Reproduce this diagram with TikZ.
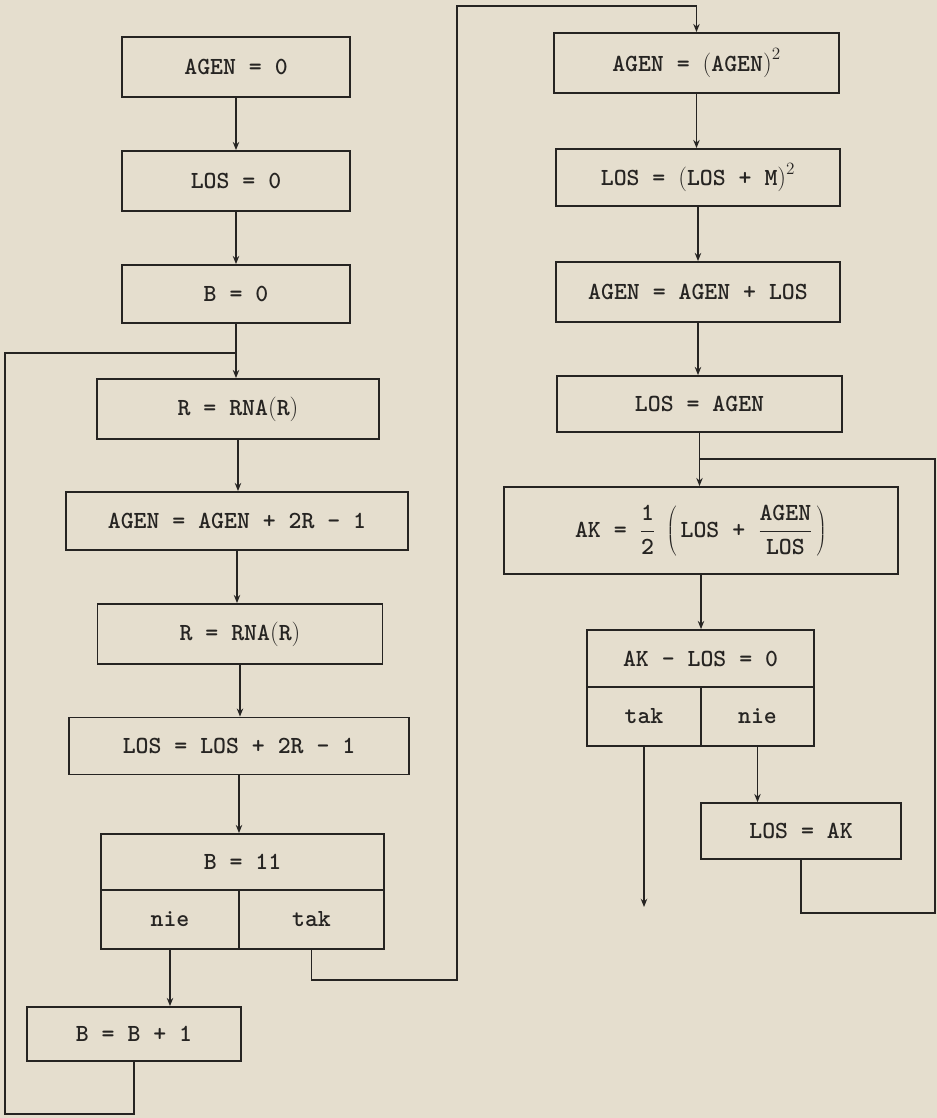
\RequirePackage{fix-cm}
\documentclass[tikz,border=0pt]{standalone}
\usepackage{fontspec}
\usetikzlibrary{arrows.meta}
\definecolor{paper}{RGB}{229,222,206}
\definecolor{ink}{RGB}{38,36,34}
\begin{document}
\begin{tikzpicture}[x=0.3mm, y=-0.3mm, >={Stealth[length=7pt,width=5.5pt]},
  box/.style={draw=ink, line width=1.5pt, inner sep=0pt, text=ink,
    font=\fontsize{21}{25}\selectfont\ttfamily\bfseries},
  ln/.style={draw=ink, line width=1.5pt}]
  \fill[paper] (0,0) rectangle (937,1118);
  \useasboundingbox (0,0) rectangle (937,1118);

  % left column
  \node[box, minimum width=68.4mm, minimum height=18mm] (a0) at (236,67) {AGEN = 0};
  \node[box, minimum width=68.4mm, minimum height=18mm] (l0) at (236,181) {LOS = 0};
  \node[box, minimum width=68.4mm, minimum height=17.4mm] (b0) at (236,294) {B = 0};
  \node[box, minimum width=84.6mm, minimum height=18mm] (rna1) at (238,409) {R = RNA$\Bigl($R$\Bigr)$};
  \node[box, minimum width=102.6mm, minimum height=17.4mm] (agen1) at (237,521) {AGEN = AGEN + 2R - 1};
  \node[box, minimum width=85.5mm, minimum height=18mm] (rna2) at (240,634) {R = RNA$\Bigl($R$\Bigr)$};
  \node[box, minimum width=102mm, minimum height=17.1mm] (los1) at (239,746) {LOS = LOS + 2R - 1};
  \node[box, minimum width=84.9mm, minimum height=16.8mm] (q1) at (242.5,862) {B = 11};
  \node[box, minimum width=41.4mm, minimum height=17.7mm] (q1n) at (170,919.5) {nie};
  \node[box, minimum width=43.5mm, minimum height=17.7mm] (q1t) at (311.5,919.5) {tak};
  \node[box, minimum width=64.2mm, minimum height=16.2mm] (binc) at (134,1034) {B = B + 1};

  % right column
  \node[box, minimum width=85.5mm, minimum height=18mm] (sq1) at (696.5,63) {AGEN = $\Bigl($AGEN$\Bigr)^2$};
  \node[box, minimum width=85.2mm, minimum height=17.1mm] (sq2) at (698,177.5) {LOS = $\Bigl($LOS + M$\Bigr)^2$};
  \node[box, minimum width=85.2mm, minimum height=18mm] (sum) at (698,292) {AGEN = AGEN + LOS};
  \node[box, minimum width=85.5mm, minimum height=16.8mm] (set) at (699.5,404) {LOS = AGEN};
  \node[box, minimum width=118.2mm, minimum height=26.1mm] (ak) at (701,530.5)
    {AK = $\displaystyle\frac{\mbox{1}}{\mbox{2}}\;\left(\,\mbox{LOS + }\frac{\mbox{AGEN}}{\mbox{LOS}}\,\right)$};
  \node[box, minimum width=68.1mm, minimum height=17.1mm] (q2) at (700.5,658.5) {AK - LOS = 0};
  \node[box, minimum width=34.2mm, minimum height=17.7mm] (q2t) at (644,716.5) {tak};
  \node[box, minimum width=33.9mm, minimum height=17.7mm] (q2n) at (757.5,716.5) {nie};
  \node[box, minimum width=60mm, minimum height=16.8mm] (losak) at (801,831) {LOS = AK};

  % loop points
  \coordinate (j1) at (236,353);
  \coordinate (lb) at (5,1114);
  \coordinate (t1) at (457,980);
  \coordinate (t2) at (457,6);
  \coordinate (j2) at (699.5,459);
  \coordinate (r1) at (935,913);
  \coordinate (e1) at (644,907);

  % flow
  \draw[ln, ->] (a0.south) -- (l0.north);
  \draw[ln, ->] (l0.south) -- (b0.north);
  \draw[ln, ->] (b0.south) -- (b0.south |- rna1.north);
  \draw[ln, ->] (rna1.south) -- (rna1.south |- agen1.north);
  \draw[ln, ->] (agen1.south) -- (agen1.south |- rna2.north);
  \draw[ln, ->] (rna2.south) -- (rna2.south |- los1.north);
  \draw[ln, ->] (los1.south) -- (los1.south |- q1.north);
  \draw[ln, ->] (q1n.south) -- (q1n.south |- binc.north);
  \draw[ln] (binc.south) |- (lb) |- (j1);
  \draw[ln, ->] (q1t.south) |- (t1) -- (t2) -| (sq1.north);

  \draw[ln, ->] (sq1.south) -- (sq1.south |- sq2.north);
  \draw[ln, ->] (sq2.south) -- (sq2.south |- sum.north);
  \draw[ln, ->] (sum.south) -- (sum.south |- set.north);
  \draw[ln, ->] (set.south) -- (set.south |- ak.north);
  \draw[ln, ->] (ak.south) -- (ak.south |- q2.north);
  \draw[ln, ->] (q2t.south) -- (e1);
  \draw[ln, ->] (q2n.south) -- (q2n.south |- losak.north);
  \draw[ln] (losak.south) |- (r1) |- (j2);
\end{tikzpicture}
\end{document}
